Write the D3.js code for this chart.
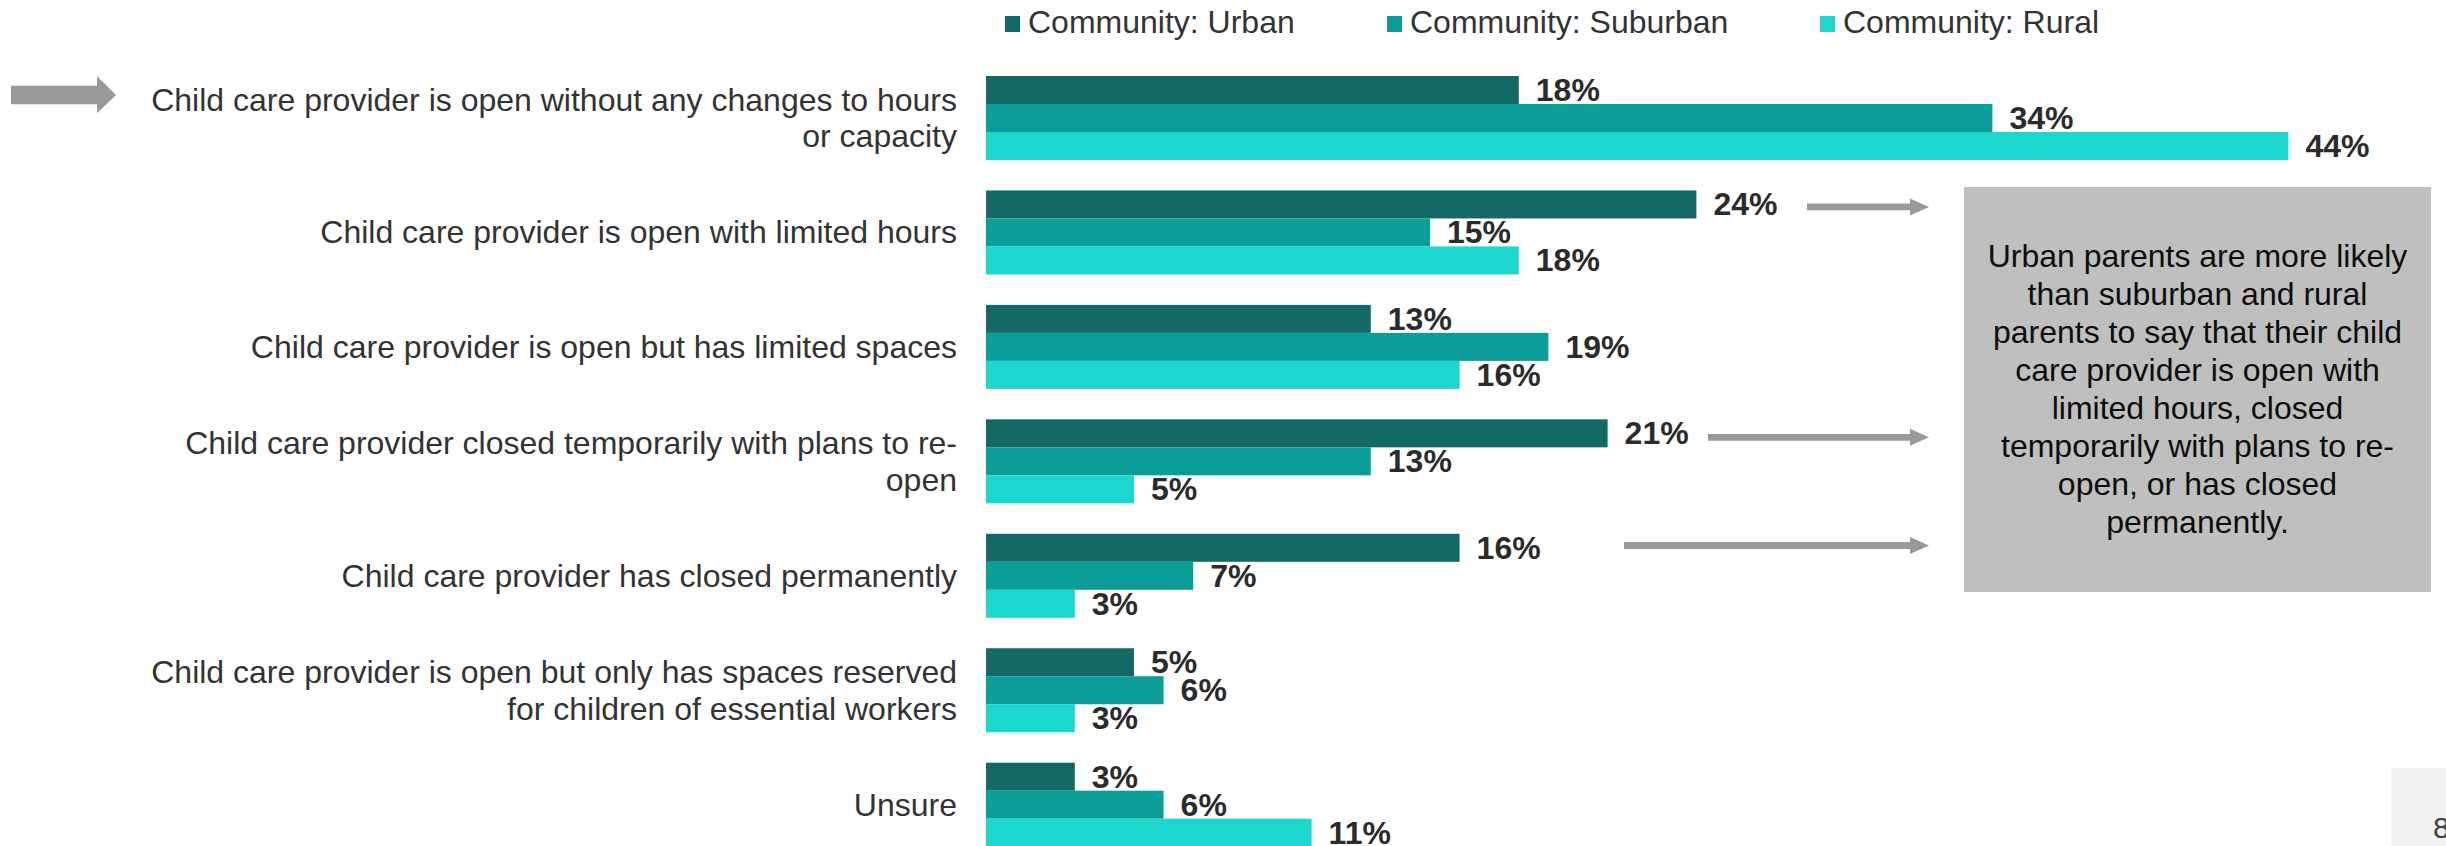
<!DOCTYPE html>
<html>
<head>
<meta charset="utf-8">
<script src="https://cdn.jsdelivr.net/npm/d3@7"></script>
<style>
  html, body { margin: 0; padding: 0; background: #ffffff; }
  svg { display: block; font-family: "Liberation Sans", Arial, Helvetica, sans-serif; }
</style>
</head>
<body>
<svg id="chart" width="2446" height="846"></svg>
<script>
// ---- data ----
const categories = [
  "Child care provider is open without any changes to hours|or capacity",
  "Child care provider is open with limited hours",
  "Child care provider is open but has limited spaces",
  "Child care provider closed temporarily with plans to re-|open",
  "Child care provider has closed permanently",
  "Child care provider is open but only has spaces reserved|for children of essential workers",
  "Unsure"
];
const seriesNames = ["Community: Urban", "Community: Suburban", "Community: Rural"];
const urban    = [18, 24, 13, 21, 16, 5, 3];
const suburban = [34, 15, 19, 13, 7, 6, 6];
const rural    = [44, 18, 16, 5, 3, 3, 11];
const seriesValues = [urban, suburban, rural];
const seriesColors = ["#126965", "#0b9e98", "#1bd7cd"];
const calloutLines = [
  "Urban parents are more likely",
  "than suburban and rural",
  "parents to say that their child",
  "care provider is open with",
  "limited hours, closed",
  "temporarily with plans to re-",
  "open, or has closed",
  "permanently."
];
const pageNumber = "8";

// ---- layout ----
const svg = d3.select("#chart");
const FS = 32;
const textColor = "#333333";

const x = d3.scaleLinear().domain([0, 44]).range([986, 2288.4]);
const y = d3.scaleBand().domain(categories).range([76, 846.7]).paddingInner(0.266).paddingOuter(0);
const ySub = d3.scaleBand().domain(seriesNames).range([0, y.bandwidth()]).padding(0);

// ---- bars ----
const groups = svg.append("g").selectAll("g.grp")
  .data(categories)
  .join("g")
  .attr("class", "grp")
  .attr("transform", d => `translate(0,${y(d)})`);

groups.each(function(cat, ci) {
  const g = d3.select(this);
  seriesNames.forEach((s, si) => {
    const v = seriesValues[si][ci];
    g.append("rect")
      .attr("x", x(0))
      .attr("y", ySub(s))
      .attr("width", x(v) - x(0))
      .attr("height", ySub.bandwidth())
      .attr("fill", seriesColors[si]);
  });
  seriesNames.forEach((s, si) => {
    const v = seriesValues[si][ci];
    g.append("text")
      .attr("x", x(v) + 17)
      .attr("y", ySub(s) + ySub.bandwidth() / 2 + 11)
      .attr("font-size", FS)
      .attr("font-weight", "bold")
      .attr("fill", "#2b2b2b")
      .text(v + "%");
  });
});

// ---- category labels ----
const lineH = 36.7;
categories.forEach(cat => {
  const lines = cat.split("|");
  const cy = y(cat) + y.bandwidth() / 2;
  const t = svg.append("text")
    .attr("text-anchor", "end")
    .attr("font-size", FS)
    .attr("fill", textColor);
  lines.forEach((ln, i) => {
    t.append("tspan")
      .attr("x", 957)
      .attr("y", cy + 11 + (i - (lines.length - 1) / 2) * lineH)
      .text(ln);
  });
});

// ---- legend ----
const legend = svg.append("g");
const legendX = [1005, 1387, 1820];
seriesNames.forEach((s, si) => {
  const lx = legendX[si];
  legend.append("rect")
    .attr("x", lx).attr("y", 16).attr("width", 15).attr("height", 16)
    .attr("fill", seriesColors[si]);
  legend.append("text")
    .attr("x", lx + 23).attr("y", 33)
    .attr("font-size", FS)
    .attr("fill", textColor)
    .text(s);
});

// ---- left highlight arrow ----
const bigArrow = [[11,85.7],[97,85.7],[97,76],[116,95],[97,113.3],[97,104.3],[11,104.3]];
svg.append("path")
  .attr("d", d3.line()(bigArrow) + "Z")
  .attr("fill", "#999999");

// ---- annotation arrows ----
function arrow(x1, x2, cy) {
  const sh = 3.4, hh = 8.5, hl = 19;
  const pts = [[x1, cy - sh], [x2 - hl, cy - sh], [x2 - hl, cy - hh], [x2, cy], [x2 - hl, cy + hh], [x2 - hl, cy + sh], [x1, cy + sh]];
  svg.append("path").attr("d", d3.line()(pts) + "Z").attr("fill", "#999999");
}
arrow(1807, 1929, y(categories[1]) + 16.5);
arrow(1708, 1929, y(categories[3]) + 18);
arrow(1624, 1929, y(categories[4]) + 11.7);

// ---- callout box ----
svg.append("rect")
  .attr("x", 1964).attr("y", 187).attr("width", 467).attr("height", 405)
  .attr("fill", "#bfbfbf");
const ct = svg.append("text")
  .attr("text-anchor", "middle")
  .attr("font-size", FS)
  .attr("fill", "#0d0d0d");
calloutLines.forEach((ln, i) => {
  ct.append("tspan").attr("x", 2197.5).attr("y", 266.7 + i * 38.1).text(ln);
});

// ---- page number ----
svg.append("rect").attr("x", 2391).attr("y", 768).attr("width", 60).attr("height", 80).attr("fill", "#f2f2f2");
svg.append("text").attr("x", 2433).attr("y", 838).attr("font-size", 30).attr("fill", "#404040").text(pageNumber);
</script>
</body>
</html>
